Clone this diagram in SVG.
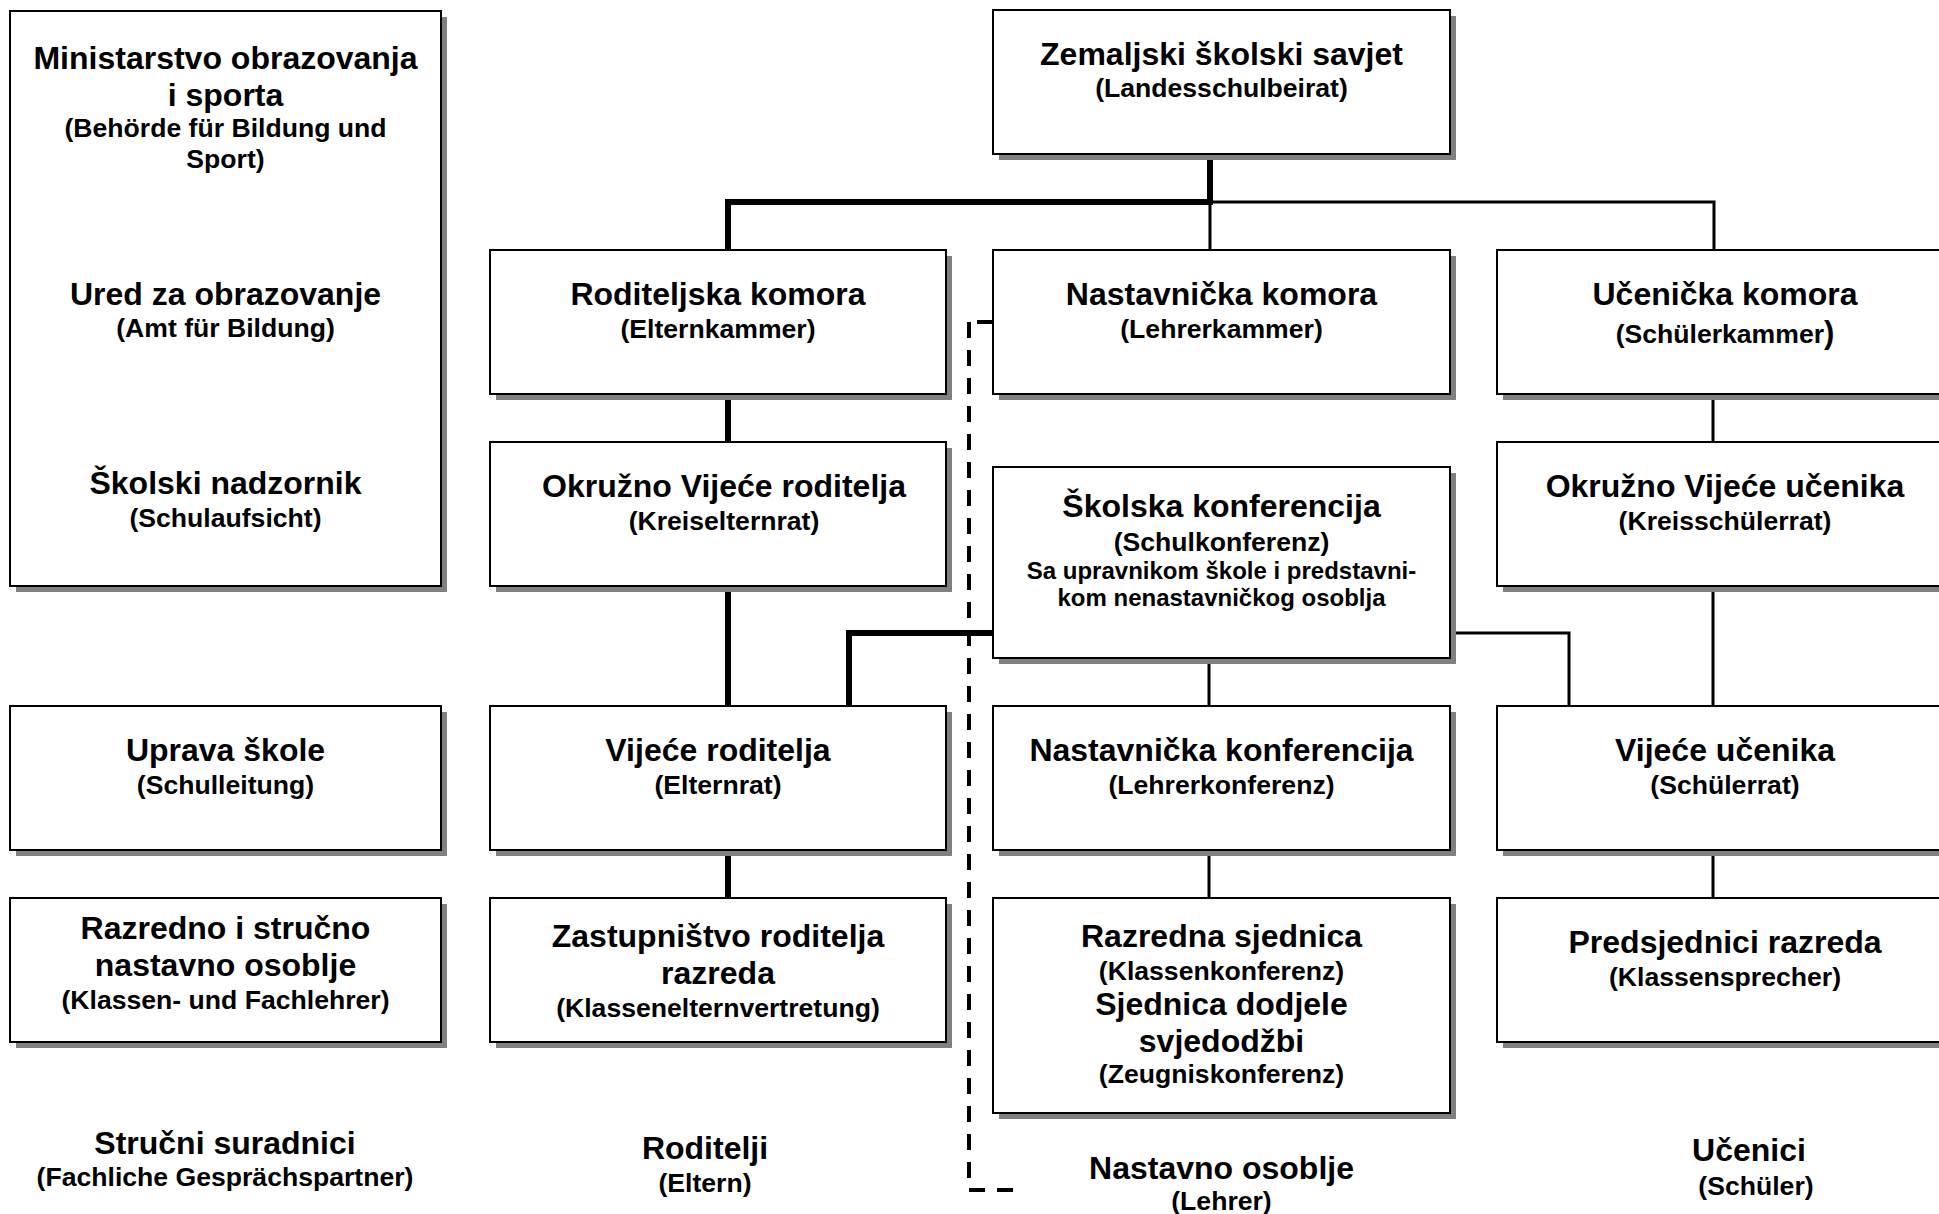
<svg xmlns="http://www.w3.org/2000/svg" width="1939" height="1214" viewBox="0 0 1939 1214">
<style>
  text { font-family: "Liberation Sans", Arial, sans-serif; font-weight: bold; text-anchor: middle; fill: #000; }
  .m { font-size: 32px; }
  .s { font-size: 26.6px; }
  .d { font-size: 24px; }
  .box { fill: #fff; stroke: #000; stroke-width: 2; }
  .sh { fill: #808080; }
  .thick { fill: none; stroke: #000; stroke-width: 6; stroke-linejoin: miter; }
  .thin { fill: none; stroke: #000; stroke-width: 3; stroke-linejoin: miter; }
  .dash { fill: none; stroke: #000; stroke-width: 4; stroke-dasharray: 16 12; }
</style>
<rect width="1939" height="1214" fill="#fff"/>

<g id="connectors">
  <path class="thick" d="M1210,154 V202 H728 V250"/>
  <path class="thin" d="M1210,202 H1714 V250 M1210,202 V250"/>
  <path class="thick" d="M728,394 V442 M728,586 V706 M728,850 V898"/>
  <path class="thick" d="M993,633 H849 V706"/>
  <path class="thin" d="M1450,633 H1569 V706 M1209,658 V706 M1209,850 V898"/>
  <path class="thin" d="M1713,394 V442 M1713,586 V706 M1713,850 V898"/>
  <path class="dash" d="M969,322 V1180"/>
  <path class="dash" d="M969,1190 H1013"/>
  <path fill="none" stroke="#000" stroke-width="4" d="M977,322 H993"/>
</g>

<g id="n-behoerde">
  <rect class="sh" x="16" y="17" width="431" height="575"/>
  <rect class="box" x="10" y="11" width="431" height="575"/>
  <text class="m" x="225.5" y="69">Ministarstvo obrazovanja</text>
  <text class="m" x="225.5" y="106">i sporta</text>
  <text class="s" x="225.5" y="137">(Behörde für Bildung und</text>
  <text class="s" x="225.5" y="168">Sport)</text>
  <text class="m" x="225.5" y="304.5">Ured za obrazovanje</text>
  <text class="s" x="225.5" y="337">(Amt für Bildung)</text>
  <text class="m" x="225.5" y="494">Školski nadzornik</text>
  <text class="s" x="225.5" y="526.5">(Schulaufsicht)</text>
</g>

<g id="n-landesschulbeirat">
  <rect class="sh" x="999" y="16" width="457" height="144"/>
  <rect class="box" x="993" y="10" width="457" height="144"/>
  <text class="m" x="1221.5" y="64.5">Zemaljski školski savjet</text>
  <text class="s" x="1221.5" y="96.5">(Landesschulbeirat)</text>
</g>

<g id="n-elternkammer">
  <rect class="sh" x="496" y="256" width="456" height="144"/>
  <rect class="box" x="490" y="250" width="456" height="144"/>
  <text class="m" x="718" y="304.5">Roditeljska komora</text>
  <text class="s" x="718" y="337.5">(Elternkammer)</text>
</g>

<g id="n-lehrerkammer">
  <rect class="sh" x="999" y="256" width="457" height="144"/>
  <rect class="box" x="993" y="250" width="457" height="144"/>
  <text class="m" x="1221.5" y="304.5">Nastavnička komora</text>
  <text class="s" x="1221.5" y="337.5">(Lehrerkammer)</text>
</g>

<g id="n-schuelerkammer">
  <rect class="sh" x="1503" y="256" width="457" height="144"/>
  <rect class="box" x="1497" y="250" width="457" height="144"/>
  <text class="m" x="1725" y="304.5">Učenička komora</text>
  <text class="s" x="1725" y="342.5">(Schülerkammer<tspan font-size="31">)</tspan></text>
</g>

<g id="n-kreiselternrat">
  <rect class="sh" x="496" y="448" width="456" height="144"/>
  <rect class="box" x="490" y="442" width="456" height="144"/>
  <text class="m" x="724" y="496.5">Okružno Vijeće roditelja</text>
  <text class="s" x="724" y="529.5">(Kreiselternrat)</text>
</g>

<g id="n-schulkonferenz">
  <rect class="sh" x="999" y="473" width="457" height="191"/>
  <rect class="box" x="993" y="467" width="457" height="191"/>
  <text class="m" x="1221.5" y="517">Školska konferencija</text>
  <text class="s" x="1221.5" y="550.5">(Schulkonferenz)</text>
  <text class="d" x="1221.5" y="579">Sa upravnikom škole i predstavni-</text>
  <text class="d" x="1221.5" y="606">kom nenastavničkog osoblja</text>
</g>

<g id="n-kreisschuelerrat">
  <rect class="sh" x="1503" y="448" width="457" height="144"/>
  <rect class="box" x="1497" y="442" width="457" height="144"/>
  <text class="m" x="1725" y="496.5">Okružno Vijeće učenika</text>
  <text class="s" x="1725" y="529.5">(Kreisschülerrat)</text>
</g>

<g id="n-schulleitung">
  <rect class="sh" x="16" y="712" width="431" height="144"/>
  <rect class="box" x="10" y="706" width="431" height="144"/>
  <text class="m" x="225.5" y="760.5">Uprava škole</text>
  <text class="s" x="225.5" y="793.5">(Schulleitung)</text>
</g>

<g id="n-elternrat">
  <rect class="sh" x="496" y="712" width="456" height="144"/>
  <rect class="box" x="490" y="706" width="456" height="144"/>
  <text class="m" x="718" y="760.5">Vijeće roditelja</text>
  <text class="s" x="718" y="793.5">(Elternrat)</text>
</g>

<g id="n-lehrerkonferenz">
  <rect class="sh" x="999" y="712" width="457" height="144"/>
  <rect class="box" x="993" y="706" width="457" height="144"/>
  <text class="m" x="1221.5" y="760.5">Nastavnička konferencija</text>
  <text class="s" x="1221.5" y="793.5">(Lehrerkonferenz)</text>
</g>

<g id="n-schuelerrat">
  <rect class="sh" x="1503" y="712" width="457" height="144"/>
  <rect class="box" x="1497" y="706" width="457" height="144"/>
  <text class="m" x="1725" y="760.5">Vijeće učenika</text>
  <text class="s" x="1725" y="793.5">(Schülerrat)</text>
</g>

<g id="n-fachlehrer">
  <rect class="sh" x="16" y="904" width="431" height="144"/>
  <rect class="box" x="10" y="898" width="431" height="144"/>
  <text class="m" x="225.5" y="938.5">Razredno i stručno</text>
  <text class="m" x="225.5" y="975.5">nastavno osoblje</text>
  <text class="s" x="225.5" y="1008.5">(Klassen- und Fachlehrer)</text>
</g>

<g id="n-klassenelternvertretung">
  <rect class="sh" x="496" y="904" width="456" height="144"/>
  <rect class="box" x="490" y="898" width="456" height="144"/>
  <text class="m" x="718" y="946.5">Zastupništvo roditelja</text>
  <text class="m" x="718" y="983.5">razreda</text>
  <text class="s" x="718" y="1016.5">(Klasseneltern­vertretung)</text>
</g>

<g id="n-klassenkonferenz">
  <rect class="sh" x="999" y="904" width="457" height="215"/>
  <rect class="box" x="993" y="898" width="457" height="215"/>
  <text class="m" x="1221.5" y="946.5">Razredna sjednica</text>
  <text class="s" x="1221.5" y="979.5">(Klassenkonferenz)</text>
  <text class="m" x="1221.5" y="1014.5">Sjednica dodjele</text>
  <text class="m" x="1221.5" y="1051.5">svjedodžbi</text>
  <text class="s" x="1221.5" y="1082.5">(Zeugniskonferenz)</text>
</g>

<g id="n-klassensprecher">
  <rect class="sh" x="1503" y="904" width="457" height="144"/>
  <rect class="box" x="1497" y="898" width="457" height="144"/>
  <text class="m" x="1725" y="952.5">Predsjednici razreda</text>
  <text class="s" x="1725" y="985.5">(Klassensprecher)</text>
</g>

<g id="n-gespraechspartner">
  <text class="m" x="225" y="1153.5">Stručni suradnici</text>
  <text class="s" x="225" y="1185.5">(Fachliche Gesprächspartner)</text>
</g>

<g id="n-eltern">
  <text class="m" x="705" y="1158.5">Roditelji</text>
  <text class="s" x="705" y="1191.5">(Eltern)</text>
</g>

<g id="n-lehrer">
  <text class="m" x="1221.5" y="1178.5">Nastavno osoblje</text>
  <text class="s" x="1221.5" y="1209.5">(Lehrer)</text>
</g>

<g id="n-schueler">
  <text class="m" x="1749" y="1161">Učenici</text>
  <text class="s" x="1756" y="1194.5">(Schüler)</text>
</g>
</svg>
